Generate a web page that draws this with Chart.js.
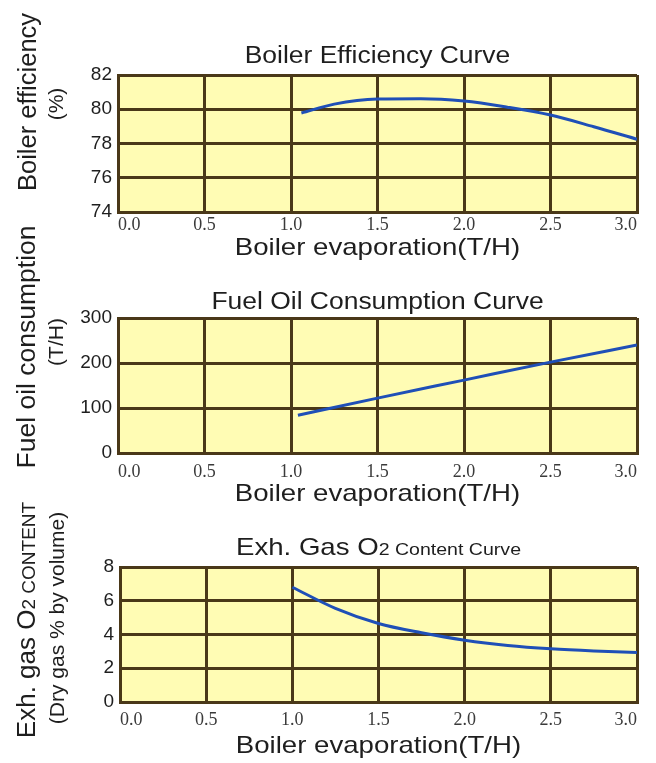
<!DOCTYPE html>
<html>
<head>
<meta charset="utf-8">
<title>Boiler performance curves</title>
<script src="https://cdn.jsdelivr.net/npm/chart.js@4/dist/chart.umd.min.js"></script>
<style>
  html, body { margin: 0; padding: 0; background: #ffffff; }
  #wrap { position: relative; width: 656px; height: 763px; overflow: hidden; }
  #wrap canvas { position: absolute; left: 0; top: 0; }
</style>
</head>
<body>
<div id="wrap">
  <canvas id="effChart" width="656" height="763"></canvas>
  <canvas id="fuelChart" width="656" height="763"></canvas>
  <canvas id="o2Chart" width="656" height="763"></canvas>
</div>
<script>
// Boiler evaporation axis (T/H)
const evapMin = 0;
const evapMax = 3;
const evapStep = 0.5;

// Boiler efficiency (%) versus evaporation
const efficiencyX = [1.06, 1.25, 1.5, 1.75, 2.0, 2.25, 2.5, 2.75, 3.0];
const efficiencyY = [79.78, 80.3, 80.6, 80.62, 80.48, 80.12, 79.66, 78.98, 78.25];
const efficiencyTicks = [74, 76, 78, 80, 82];

// Fuel oil consumption versus evaporation
const fuelX = [1.04, 1.5, 2.0, 2.5, 3.0];
const fuelY = [84, 122, 162, 202, 240];
const fuelTicks = [0, 100, 200, 300];

// Exhaust gas O2 content (dry gas % by volume) versus evaporation
const o2X = [1.0, 1.25, 1.5, 1.75, 2.0, 2.25, 2.5, 2.75, 3.0];
const o2Y = [6.8, 5.55, 4.65, 4.1, 3.66, 3.35, 3.15, 3.02, 2.93];
const o2Ticks = [0, 2, 4, 6, 8];

const xAxisTitle = 'Boiler evaporation(T/H)';

const PLOT_BG = '#fffcb4';
const GRID = '#4a3818';
const CURVE = '#1f4fb7';
const INK = '#1e1e1e';
const SANS = '"Liberation Sans", Arial, Helvetica, sans-serif';
const SERIF = '"Liberation Serif", "Times New Roman", serif';

function toPoints(xs, ys) {
  return xs.map((x, i) => ({ x: x, y: ys[i] }));
}

// Draws a run of text pieces of different sizes on one baseline,
// centred on (x, y); optionally turned to read bottom-to-top.
function drawRuns(ctx, runs, x, y, rotated, sx) {
  ctx.save();
  ctx.translate(x, y);
  if (rotated) ctx.rotate(-Math.PI / 2);
  ctx.scale(sx, 1);
  ctx.textAlign = 'left';
  ctx.textBaseline = 'alphabetic';
  ctx.fillStyle = INK;
  let total = 0;
  const widths = runs.map(r => {
    ctx.font = r.size + 'px ' + SANS;
    const w = ctx.measureText(r.text).width;
    total += w;
    return w;
  });
  let cx = -total / 2;
  runs.forEach((r, i) => {
    ctx.font = r.size + 'px ' + SANS;
    ctx.fillText(r.text, cx, 0);
    cx += widths[i];
  });
  ctx.restore();
}

// Yellow plot field plus the titles around each panel
const panelDecor = {
  id: 'panelDecor',
  beforeDraw(chart) {
    const a = chart.chartArea;
    const ctx = chart.ctx;
    ctx.save();
    ctx.fillStyle = PLOT_BG;
    ctx.fillRect(a.left, a.top, a.right - a.left, a.bottom - a.top);
    ctx.restore();
  },
  afterDraw(chart, args, opts) {
    const a = chart.chartArea;
    const ctx = chart.ctx;
    const mid = (a.left + a.right) / 2;
    drawRuns(ctx, opts.title, mid, opts.titleBaseline, false, 1.15);
    drawRuns(ctx, [{ text: xAxisTitle, size: 24 }], mid, opts.xTitleBaseline, false, 1.15);
    opts.yLabels.forEach(l => drawRuns(ctx, l.runs, l.x, l.y, true, 1));
  }
};

function makeChart(id, cfg) {
  const H = 763;
  return new Chart(document.getElementById(id), {
    type: 'line',
    data: {
      datasets: [{
        data: toPoints(cfg.xs, cfg.ys),
        borderColor: CURVE,
        borderWidth: 3,
        pointRadius: 0,
        fill: false,
        cubicInterpolationMode: 'monotone'
      }]
    },
    options: {
      responsive: false,
      animation: false,
      events: [],
      layout: {
        padding: { left: 0, right: 656 - cfg.right, top: cfg.top, bottom: H - cfg.bottom - 40 }
      },
      plugins: {
        legend: { display: false },
        title: { display: false },
        tooltip: { enabled: false },
        panelDecor: cfg.decor
      },
      scales: {
        x: {
          type: 'linear',
          min: evapMin,
          max: evapMax,
          afterFit(scale) { scale.height = 40; },
          ticks: {
            stepSize: evapStep,
            align: 'inner',
            padding: cfg.xTickPad,
            color: '#3a3a3a',
            font: { family: SERIF, size: 18 },
            callback: v => Number(v).toFixed(1)
          },
          grid: { color: GRID, lineWidth: 3, drawTicks: false },
          border: { display: true, color: GRID, width: 3 }
        },
        y: {
          type: 'linear',
          min: cfg.yTicks[0],
          max: cfg.yTicks[cfg.yTicks.length - 1],
          afterFit(scale) { scale.width = cfg.left; },
          afterBuildTicks(scale) { scale.ticks = cfg.yTicks.map(v => ({ value: v })); },
          ticks: {
            padding: 6,
            color: INK,
            font: { family: SANS, size: 19 }
          },
          grid: { color: GRID, lineWidth: 3, drawTicks: false },
          border: { display: true, color: GRID, width: 3 }
        }
      }
    },
    plugins: [panelDecor]
  });
}

makeChart('effChart', {
  xs: efficiencyX, ys: efficiencyY, yTicks: efficiencyTicks,
  left: 118, right: 637, top: 75, bottom: 212, xTickPad: 2,
  decor: {
    title: [{ text: 'Boiler Efficiency Curve', size: 23 }],
    titleBaseline: 63,
    xTitleBaseline: 255,
    yLabels: [
      { runs: [{ text: 'Boiler efficiency', size: 25.5 }], x: 36, y: 102 },
      { runs: [{ text: '(%)', size: 21 }], x: 63, y: 104 }
    ]
  }
});

makeChart('fuelChart', {
  xs: fuelX, ys: fuelY, yTicks: fuelTicks,
  left: 118, right: 637, top: 318, bottom: 453, xTickPad: 8,
  decor: {
    title: [{ text: 'Fuel Oil Consumption Curve', size: 23 }],
    titleBaseline: 309,
    xTitleBaseline: 501,
    yLabels: [
      { runs: [{ text: 'Fuel oil consumption', size: 26.5 }], x: 35, y: 347 },
      { runs: [{ text: '(T/H)', size: 21 }], x: 63, y: 342 }
    ]
  }
});

makeChart('o2Chart', {
  xs: o2X, ys: o2Y, yTicks: o2Ticks,
  left: 120, right: 637, top: 567, bottom: 702, xTickPad: 7,
  decor: {
    title: [{ text: 'Exh. Gas O', size: 24 }, { text: '2 Content Curve', size: 17 }],
    titleBaseline: 555,
    xTitleBaseline: 753,
    yLabels: [
      { runs: [{ text: 'Exh. gas O', size: 26 }, { text: '2 CONTENT', size: 19 }], x: 35, y: 620 },
      { runs: [{ text: '(Dry gas % by volume)', size: 21 }], x: 64, y: 618 }
    ]
  }
});
</script>
</body>
</html>
